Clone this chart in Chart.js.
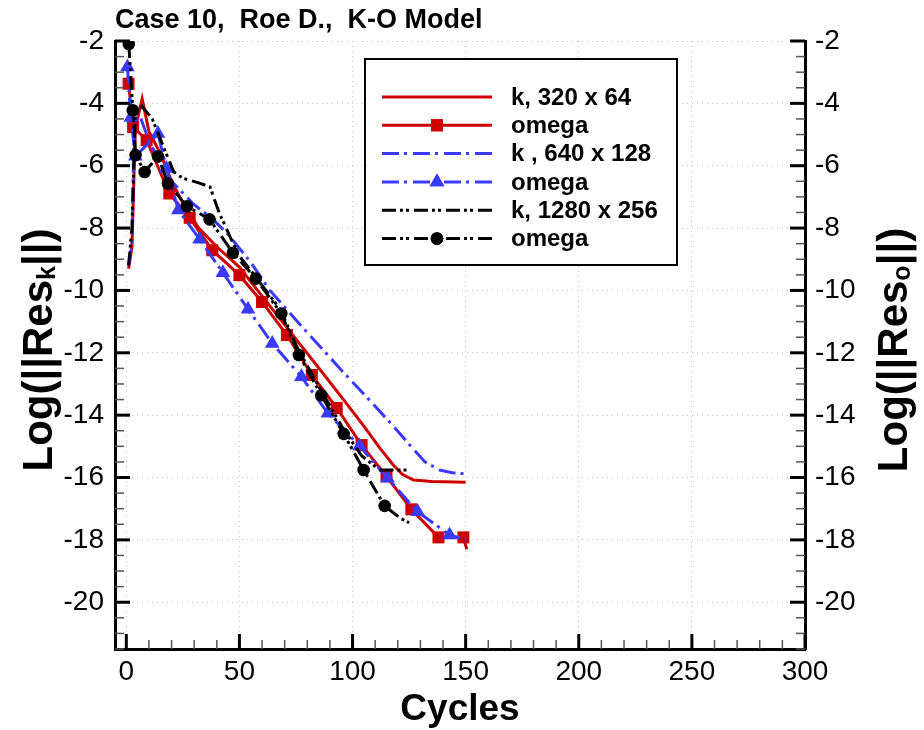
<!DOCTYPE html>
<html>
<head>
<meta charset="utf-8">
<title>Case 10, Roe D., K-O Model</title>
<script src="https://cdn.jsdelivr.net/npm/chart.js@4.4.1/dist/chart.umd.min.js"></script>
<style>
  body { margin: 0; background: #fff; }
  canvas { display: block; }
</style>
</head>
<body>
<canvas id="canvas" width="924" height="730"></canvas>
<script>
// axis ticks
const xTicks = [0, 50, 100, 150, 200, 250, 300];
const yTicks = [-2, -4, -6, -8, -10, -12, -14, -16, -18, -20];

// k, 320 x 64
const k320Cycles = [1, 2.5, 4, 7, 10, 15, 20, 25, 32, 40, 50, 55, 65, 75, 85, 96, 105, 112, 118, 122, 127, 135, 150];
const k320Res = [-9.3, -8.6, -4.8, -3.85, -4.9, -5.6, -6.5, -7.2, -8.0, -8.6, -9.25, -9.72, -10.64, -11.56, -12.48, -13.5, -14.35, -15.05, -15.6, -15.9, -16.08, -16.13, -16.15];

// omega, 320 x 64 (symbol points, then unmarked tail)
const w320Cycles = [1, 3, 9, 19, 28, 38, 50, 60, 71, 82, 93, 104, 115, 126, 138, 149];
const w320Res = [-3.37, -4.76, -5.18, -6.89, -7.67, -8.71, -9.51, -10.37, -11.43, -12.71, -13.77, -14.96, -15.96, -17.02, -17.92, -17.92];
const w320TailCycles = [150.5];
const w320TailRes = [-18.3];

// k, 640 x 128
const k640Cycles = [1, 2.5, 3.5, 6, 10, 15, 20, 30, 38, 45, 55, 63.4, 75, 85, 95, 107.5, 118, 126.5, 132, 138.5, 144, 150];
const k640Res = [-9.2, -8.5, -4.6, -4.4, -5.2, -5.9, -6.5, -7.25, -7.7, -8.2, -9.1, -9.99, -10.95, -11.75, -12.55, -13.52, -14.35, -15.06, -15.5, -15.76, -15.85, -15.88];

// omega, 640 x 128
const w640Cycles = [0.5, 2, 4, 14, 17.7, 23, 32.4, 42.7, 53.8, 64.5, 77.4, 89.1, 103.1, 115.5, 128.8, 142.9];
const w640Res = [-2.83, -4.45, -5.7, -4.97, -6.09, -7.42, -8.36, -9.43, -10.6, -11.7, -12.77, -13.94, -14.99, -16.02, -17.1, -17.84];
const w640TailCycles = [150];
const w640TailRes = [-18.0];

// k, 1280 x 256
const k1280Cycles = [1, 2.5, 4, 7, 11.5, 17, 21, 25, 32, 37, 41, 46, 50, 57, 68, 76, 86, 96, 104, 112, 125];
const k1280Res = [-9.2, -8.0, -4.3, -4.1, -4.5, -5.5, -6.2, -6.4, -6.55, -6.68, -7.5, -8.3, -8.9, -9.55, -10.6, -11.9, -13.2, -14.45, -15.3, -15.76, -15.76];

// omega, 1280 x 256
const w1280Cycles = [1.1, 2.9, 4.1, 8.1, 14, 18.4, 26.8, 36.8, 47.1, 57.2, 68.5, 76.3, 86.2, 96.1, 104.9, 114.2];
const w1280Res = [-2.1, -4.22, -5.66, -6.2, -5.7, -6.57, -7.3, -7.72, -8.79, -9.62, -10.74, -12.07, -13.36, -14.6, -15.76, -16.91];
const w1280TailCycles = [121, 125];
const w1280TailRes = [-17.3, -17.45];

const RED = '#cc0000', BLUE = '#3a3aff', BLACK = '#000000';
const FONT = "'Liberation Sans', Arial, Helvetica, sans-serif";

function pts(cx, cy) {
  return cx.map((c, i) => ({ x: c, y: cy[i] }));
}

function symbolSeries(label, cx, cy, tx, ty, color, dash, style, radius, order) {
  const n = cx.length;
  return {
    label,
    data: pts(cx, cy).concat(pts(tx, ty)),
    borderColor: color,
    backgroundColor: color,
    borderWidth: 3,
    borderDash: dash,
    pointStyle: style,
    pointRadius: ctx => (ctx.dataIndex < n ? radius : 0),
    pointBorderWidth: 0,
    pointBackgroundColor: color,
    order
  };
}

const datasets = [
  { label: 'k, 320 x 64', data: pts(k320Cycles, k320Res), borderColor: RED, borderWidth: 3, borderDash: [], pointRadius: 0, order: 5 },
  symbolSeries('omega', w320Cycles, w320Res, w320TailCycles, w320TailRes, RED, [], 'rect', 8.5, 4),
  { label: 'k , 640 x 128', data: pts(k640Cycles, k640Res), borderColor: BLUE, borderWidth: 3, borderDash: [17, 5, 3, 6], pointRadius: 0, order: 3 },
  symbolSeries('omega', w640Cycles, w640Res, w640TailCycles, w640TailRes, BLUE, [17, 5, 3, 6], 'triangle', 8.5, 2),
  { label: 'k, 1280 x 256', data: pts(k1280Cycles, k1280Res), borderColor: BLACK, borderWidth: 3, borderDash: [14, 4, 3, 3, 3, 5], pointRadius: 0, order: 1 },
  symbolSeries('omega', w1280Cycles, w1280Res, w1280TailCycles, w1280TailRes, BLACK, [14, 4, 3, 3, 3, 5], 'circle', 6.3, 0)
];

function setTicks(values) {
  return scale => { scale.ticks = values.map(v => ({ value: v })); };
}

// inward major/minor tick marks like the original plot
const tickMarks = {
  id: 'tickMarks',
  afterDraw(chart) {
    const { ctx, chartArea: a, scales } = chart;
    ctx.save();
    const seg = (x1, y1, x2, y2, major) => {
      ctx.beginPath();
      ctx.lineWidth = major ? 3 : 1.5;
      ctx.strokeStyle = major ? '#000' : '#555';
      ctx.moveTo(x1, y1);
      ctx.lineTo(x2, y2);
      ctx.stroke();
    };
    for (let c = 0; c <= 300; c += 10) {
      const px = scales.x.getPixelForValue(c);
      const major = c % 50 === 0;
      seg(px, a.bottom, px, a.bottom - (major ? 15 : 9), major);
    }
    for (let v = -2; v >= -21.5; v -= 0.5) {
      const py = scales.y.getPixelForValue(v);
      const major = v % 2 === 0;
      const len = major ? 15 : 9;
      seg(a.left, py, a.left + len, py, major);
      seg(a.right, py, a.right - len, py, major);
    }
    ctx.restore();
  }
};

function drawRich(ctx, parts, size) {
  const base = 'bold ' + size + 'px ' + FONT;
  const small = 'bold ' + Math.round(size * 0.6) + 'px ' + FONT;
  let w = 0;
  parts.forEach(p => { ctx.font = p.sub ? small : base; w += ctx.measureText(p.t).width; });
  let x = -w / 2;
  parts.forEach(p => {
    ctx.font = p.sub ? small : base;
    ctx.fillText(p.t, x, p.sub ? size * 0.42 : size * 0.36);
    x += ctx.measureText(p.t).width;
  });
}

const labels = {
  id: 'labels',
  afterDraw(chart) {
    const { ctx, chartArea: a } = chart;
    ctx.save();
    ctx.fillStyle = '#000';
    ctx.textBaseline = 'alphabetic';
    ctx.textAlign = 'left';
    ctx.font = 'bold 27px ' + FONT;
    ctx.fillText('Case 10,  Roe D.,  K-O Model', 115, 28);

    ctx.textAlign = 'center';
    ctx.font = 'bold 37px ' + FONT;
    ctx.textBaseline = 'middle';
    ctx.fillText('Cycles', (a.left + a.right) / 2, 710);

    ctx.textBaseline = 'alphabetic';
    ctx.textAlign = 'left';
    const mid = 350;
    ctx.save();
    ctx.translate(37, mid);
    ctx.rotate(-Math.PI / 2);
    drawRich(ctx, [{ t: 'Log(||Res' }, { t: 'k', sub: true }, { t: '||)' }], 42);
    ctx.restore();
    ctx.save();
    ctx.translate(892, mid);
    ctx.rotate(-Math.PI / 2);
    drawRich(ctx, [{ t: 'Log(||Res' }, { t: 'o', sub: true }, { t: '||)' }], 42);
    ctx.restore();
    ctx.restore();
  }
};

const legendBox = {
  id: 'legendBox',
  afterDraw(chart) {
    const { ctx } = chart;
    ctx.save();
    ctx.fillStyle = '#fff';
    ctx.fillRect(365, 59, 312, 206);
    ctx.lineWidth = 2;
    ctx.strokeStyle = '#000';
    ctx.strokeRect(365, 59, 312, 206);
    chart.data.datasets.forEach((ds, i) => {
      const y = 97 + i * 28.3;
      ctx.beginPath();
      ctx.setLineDash(ds.borderDash);
      ctx.lineWidth = 3;
      ctx.strokeStyle = ds.borderColor;
      ctx.moveTo(382, y);
      ctx.lineTo(492, y);
      ctx.stroke();
      ctx.setLineDash([]);
      if (ds.pointStyle) {
        const r = ds.pointStyle === 'circle' ? 6.3 : 8.5;
        ctx.fillStyle = ds.borderColor;
        Chart.helpers.drawPoint(ctx, { pointStyle: ds.pointStyle, radius: r, rotation: 0, borderWidth: 0 }, 437, y);
        ctx.fill();
      }
      ctx.fillStyle = '#000';
      ctx.font = 'bold 24px ' + FONT;
      ctx.textBaseline = 'middle';
      ctx.textAlign = 'left';
      ctx.fillText(ds.label, 511, y + 1);
    });
    ctx.restore();
  }
};

const tickFont = { family: FONT, size: 28 };
const gridStyle = { color: '#c8c8c8', lineWidth: 1, drawTicks: false };

new Chart(document.getElementById('canvas'), {
  type: 'line',
  data: { datasets },
  plugins: [tickMarks, labels, legendBox],
  options: {
    responsive: false,
    animation: false,
    layout: { padding: { top: 41, left: 0, right: 0, bottom: 0 } },
    elements: { line: { tension: 0, fill: false } },
    plugins: { legend: { display: false }, title: { display: false }, tooltip: { enabled: false } },
    scales: {
      x: {
        type: 'linear', min: -5, max: 300,
        afterBuildTicks: setTicks(xTicks),
        afterFit: s => { s.height = 81; },
        grid: gridStyle,
        border: { display: true, color: '#000', width: 3, dash: [1, 4] },
        ticks: { font: tickFont, color: '#000', padding: 6, maxRotation: 0 }
      },
      y: {
        type: 'linear', position: 'left', min: -21.5, max: -2,
        afterBuildTicks: setTicks(yTicks),
        afterFit: s => { s.width = 115; },
        grid: gridStyle,
        border: { display: true, color: '#000', width: 3, dash: [1, 4] },
        ticks: { font: tickFont, color: '#000', padding: 11 }
      },
      y2: {
        type: 'linear', position: 'right', min: -21.5, max: -2,
        afterBuildTicks: setTicks(yTicks),
        afterFit: s => { s.width = 119; },
        grid: { display: false, drawTicks: false },
        border: { display: true, color: '#000', width: 3 },
        ticks: { font: tickFont, color: '#000', padding: 10 }
      }
    }
  }
});
</script>
</body>
</html>
